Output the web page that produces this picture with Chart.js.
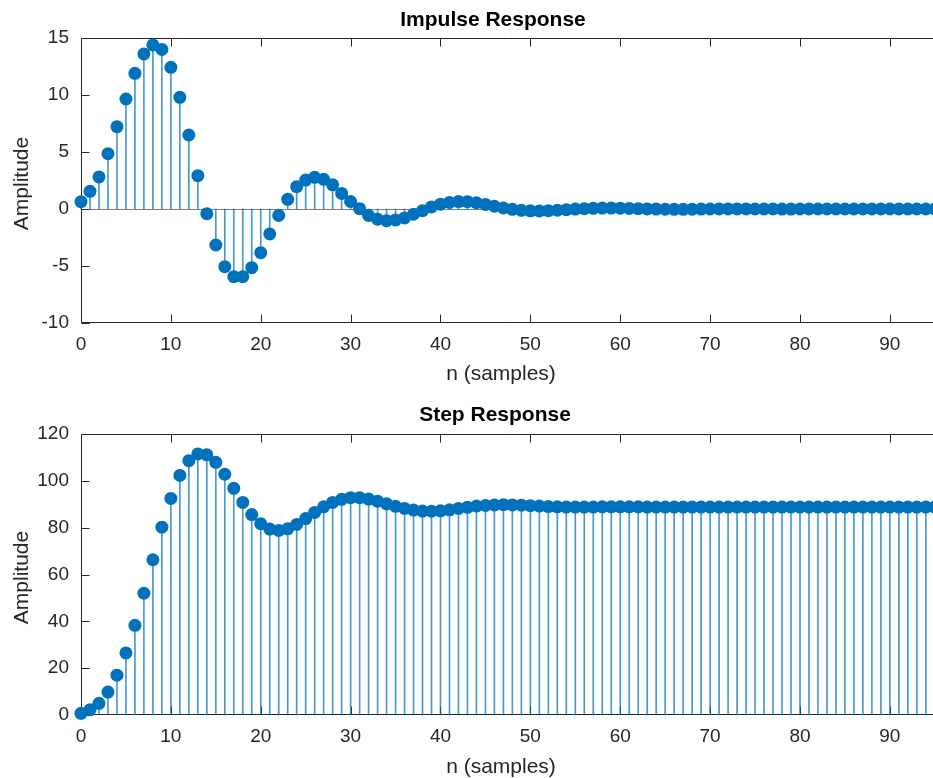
<!DOCTYPE html>
<html><head><meta charset="utf-8">
<script src="https://cdn.jsdelivr.net/npm/chart.js@4/dist/chart.umd.min.js"></script>
<style>
html,body{margin:0;padding:0;background:#fff;}
#wrap{position:relative;width:933px;height:778px;overflow:hidden;background:#fff;}
canvas{position:absolute;left:0;}
</style></head><body>
<div id="wrap">
<canvas id="c1" width="933" height="389" style="top:0px"></canvas>
<canvas id="c2" width="933" height="389" style="top:389px"></canvas>
</div>
<script>
const samples = [0,1,2,3,4,5,6,7,8,9,10,11,12,13,14,15,16,17,18,19,20,21,22,23,24,25,26,27,28,29,30,31,32,33,34,35,36,37,38,39,40,41,42,43,44,45,46,47,48,49,50,51,52,53,54,55,56,57,58,59,60,61,62,63,64,65,66,67,68,69,70,71,72,73,74,75,76,77,78,79,80,81,82,83,84,85,86,87,88,89,90,91,92,93,94,95];
const impulse = [0.64,1.55,2.81,4.85,7.22,9.65,11.9,13.6,14.39,14.0,
12.43,9.8,6.49,2.92,-0.41,-3.16,-5.06,-5.94,-5.94,-5.15,
-3.83,-2.19,-0.56,0.85,1.96,2.54,2.78,2.6,2.12,1.37,
0.66,0.03,-0.57,-0.9,-1.02,-0.96,-0.78,-0.46,-0.15,0.18,
0.42,0.57,0.65,0.64,0.55,0.4,0.24,0.09,-0.03,-0.12,
-0.16,-0.17,-0.15,-0.11,-0.06,-0.01,0.03,0.06,0.08,0.08,
0.07,0.05,0.03,0.01,-0.01,-0.02,-0.03,-0.03,-0.02,-0.01,
0.0,0.01,0.01,0.01,0.01,0.0,0.0,0.0,-0.01,-0.01,
0.0,0.0,0.0,0.0,0.0,0.0,0.0,0.0,0.0,0.0,
0.0,0.0,0.0,0.0,0.0,0.0];
const stepResp = [0.7,2.2,5.0,9.8,17.0,26.5,38.3,52.0,66.3,80.2,
92.5,102.3,108.6,111.5,111.1,107.9,102.8,96.8,90.8,85.6,
81.7,79.4,78.8,79.5,81.4,83.9,86.5,88.9,90.8,92.1,
92.8,92.8,92.2,91.3,90.2,89.1,88.2,87.5,87.1,87.0,
87.2,87.6,88.2,88.7,89.2,89.5,89.7,89.8,89.7,89.6,
89.4,89.2,89.0,88.9,88.8,88.8,88.8,88.8,88.9,88.9,
88.9,88.9,88.9,88.8,88.8,88.8,88.8,88.8,88.8,88.8,
88.8,88.8,88.8,88.8,88.8,88.8,88.8,88.8,88.8,88.8,
88.8,88.8,88.8,88.8,88.8,88.8,88.8,88.8,88.8,88.8,
88.8,88.8,88.8,88.8,88.8,88.8];
const xTickValues = [0,10,20,30,40,50,60,70,80,90];
const yTicksImpulse = [-10,-5,0,5,10,15];
const yTicksStep = [0,20,40,60,80,100,120];

const FONT = '"Liberation Sans", Arial, Helvetica, sans-serif';
const TXT = '#262626';
const BLUE = '#0072BD';
const STEM = 'rgba(0,114,189,0.72)';

function makeChart(id, vals, yTicks, yMin, yMax, opts) {
  const pts = samples.map((n, i) => ({x: n, y: vals[i]}));
  const plugin = {
    id: 'matlabAxes_' + id,
    beforeDatasetsDraw(chart) {
      const {ctx, chartArea: a, scales: {x, y}} = chart;
      ctx.save();
      if (opts.baseline) {
        const yb = Math.round(y.getPixelForValue(0)) + 0.5;
        ctx.strokeStyle = '#808080'; ctx.lineWidth = 1;
        ctx.beginPath(); ctx.moveTo(a.left, yb); ctx.lineTo(a.right, yb); ctx.stroke();
      }
      ctx.strokeStyle = TXT; ctx.lineWidth = 1;
      const L = Math.round(a.left) + 0.5, T = Math.round(a.top) + 0.5, B = Math.round(a.bottom) - 0.5;
      ctx.beginPath();
      ctx.moveTo(a.right, T); ctx.lineTo(L, T); ctx.lineTo(L, B); ctx.lineTo(a.right, B);
      ctx.stroke();
      ctx.beginPath();
      xTickValues.forEach(v => {
        const px = Math.round(x.getPixelForValue(v)) + 0.5;
        ctx.moveTo(px, B); ctx.lineTo(px, B - 8);
        ctx.moveTo(px, T); ctx.lineTo(px, T + 8);
      });
      yTicks.forEach(v => {
        const py = Math.round(y.getPixelForValue(v)) + 0.5;
        ctx.moveTo(L, py); ctx.lineTo(L + 8, py);
      });
      ctx.stroke();
      ctx.restore();
    },
    afterDraw(chart) {
      const {ctx, chartArea: a} = chart;
      ctx.save();
      ctx.fillStyle = '#000';
      ctx.font = 'bold 21px ' + FONT;
      ctx.textAlign = 'center'; ctx.textBaseline = 'alphabetic';
      ctx.fillText(opts.title, opts.titleX, a.top - opts.titleGap);
      ctx.fillStyle = TXT;
      ctx.font = '21px ' + FONT;
      ctx.textBaseline = 'middle';
      ctx.fillText('n (samples)', opts.xlabelX, a.bottom + opts.xlabelGap);
      ctx.save();
      ctx.translate(opts.ylabelX, (a.top + a.bottom) / 2 + 3);
      ctx.rotate(-Math.PI / 2);
      ctx.textBaseline = 'alphabetic';
      ctx.fillText('Amplitude', 0, 0);
      ctx.restore();
      ctx.restore();
    }
  };
  return new Chart(document.getElementById(id), {
    type: 'scatter',
    data: {
      datasets: [
        {type: 'scatter', data: pts, backgroundColor: BLUE, borderColor: BLUE, pointRadius: 6.5, pointBorderWidth: 0, borderWidth: 0, showLine: false, clip: false, order: 0},
        {type: 'bar', data: pts, backgroundColor: STEM, borderWidth: 0, barThickness: 1, clip: false, order: 1}
      ]
    },
    options: {
      responsive: false,
      animation: false,
      events: [],
      layout: {autoPadding: false, padding: {top: opts.top, left: 0, right: 0, bottom: 0}},
      plugins: {legend: {display: false}, tooltip: {enabled: false}, title: {display: false}},
      scales: {
        x: {
          type: 'linear', min: 0, max: 94.8, offset: false,
          grid: {display: false, drawTicks: false},
          border: {display: false},
          afterBuildTicks: s => { s.ticks = xTickValues.map(v => ({value: v})); },
          ticks: {font: {family: FONT, size: 19}, color: TXT, padding: 10, maxRotation: 0, autoSkip: false},
          afterFit: s => { s.height = opts.xHeight; s.paddingLeft = 0; s.paddingRight = 0; }
        },
        y: {
          type: 'linear', min: yMin, max: yMax,
          grid: {display: false, drawTicks: false},
          border: {display: false},
          afterBuildTicks: s => { s.ticks = yTicks.map(v => ({value: v})); },
          ticks: {font: {family: FONT, size: 19}, color: TXT, padding: 12},
          afterFit: s => { s.width = 81; s.paddingTop = 0; s.paddingBottom = 0; }
        }
      }
    },
    plugins: [plugin]
  });
}

makeChart('c1', impulse, yTicksImpulse, -10, 15, {
  top: 38, xHeight: 389 - 323, baseline: true,
  title: 'Impulse Response', titleX: 493, titleGap: 12,
  xlabelX: 501, xlabelGap: 51, ylabelX: 28
});
makeChart('c2', stepResp, yTicksStep, 0, 120, {
  top: 434 - 389, xHeight: 389 - (715 - 389), baseline: false,
  title: 'Step Response', titleX: 495, titleGap: 13,
  xlabelX: 501, xlabelGap: 52, ylabelX: 28
});
</script>
</body></html>
